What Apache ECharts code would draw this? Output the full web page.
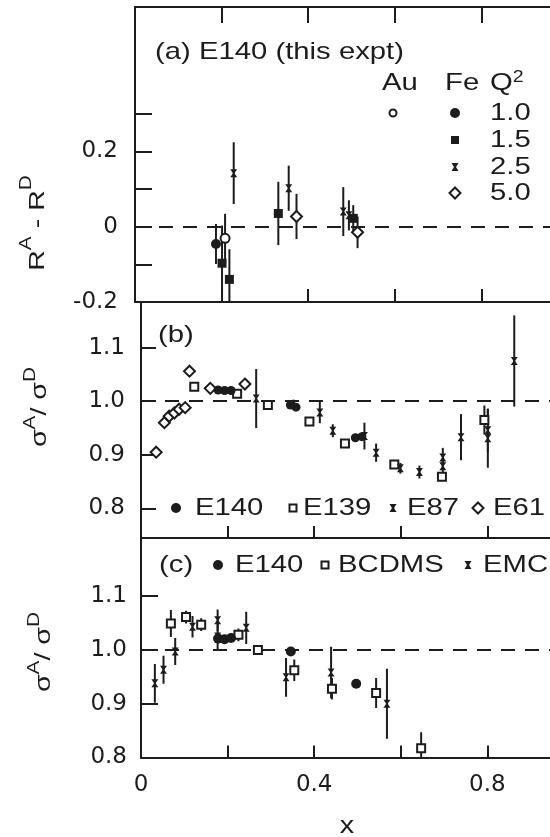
<!DOCTYPE html>
<html><head><meta charset="utf-8">
<script src="https://cdn.jsdelivr.net/npm/echarts@6/dist/echarts.min.js"></script>
<style>html,body{margin:0;padding:0;background:#fff}#c{width:550px;height:837px}</style>
</head><body><div id="c"></div>
<script>
// ================= DATA =================
// every point: [x, value, error]
// Panel (a): R^A - R^D from E140
const aAuQ10 = [[0.208, -0.031, 0.065]];
const aFeQ10 = [[0.187, -0.046, 0.053]];
const aFeQ15 = [[0.201, -0.097, 0.10], [0.218, -0.140, 0.08], [0.331, 0.035, 0.084], [0.504, 0.022, 0.035]];
const aFeQ25 = [[0.228, 0.142, 0.082], [0.355, 0.102, 0.06], [0.481, 0.040, 0.065], [0.494, 0.030, 0.04]];
const aFeQ50 = [[0.373, 0.027, 0.06], [0.514, -0.015, 0.042]];

// Panel (b): sigma_A / sigma_D  (SLAC experiments)
const bE140 = [[0.178, 1.021, 0.004], [0.193, 1.020, 0.004], [0.208, 1.020, 0.004], [0.345, 0.993, 0.004], [0.358, 0.989, 0.004], [0.495, 0.932, 0.004], [0.510, 0.934, 0.004]];
const bE139 = [[0.123, 1.027, 0.008], [0.222, 1.014, 0.008], [0.293, 0.993, 0.008], [0.389, 0.962, 0.008], [0.471, 0.921, 0.006], [0.585, 0.882, 0.006], [0.695, 0.859, 0.008], [0.793, 0.965, 0.027]];
const bE87 = [[0.266, 1.005, 0.055], [0.352, 0.995, 0.008], [0.413, 0.979, 0.02], [0.443, 0.945, 0.012], [0.516, 0.935, 0.025], [0.543, 0.904, 0.017], [0.599, 0.875, 0.01], [0.643, 0.868, 0.012], [0.697, 0.895, 0.018], [0.697, 0.879, 0.012], [0.739, 0.933, 0.043], [0.801, 0.946, 0.04], [0.801, 0.931, 0.055], [0.862, 1.075, 0.085]];
const bE61 = [[0.035, 0.905, 0.008], [0.054, 0.960, 0.008], [0.065, 0.972, 0.008], [0.077, 0.978, 0.008], [0.088, 0.985, 0.008], [0.102, 0.988, 0.008], [0.112, 1.056, 0.008], [0.160, 1.024, 0.006], [0.240, 1.032, 0.008]];

// Panel (c): sigma_A / sigma_D  (E140 vs muon data)
const cE140 = [[0.178, 1.021, 0.004], [0.193, 1.020, 0.004], [0.208, 1.022, 0.004], [0.346, 0.997, 0.004], [0.497, 0.937, 0.004]];
const cBCDMS = [[0.069, 1.049, 0.025], [0.104, 1.061, 0.012], [0.139, 1.047, 0.012], [0.225, 1.028, 0.012], [0.270, 1.000, 0.008], [0.354, 0.962, 0.02], [0.441, 0.928, 0.02], [0.543, 0.920, 0.028], [0.647, 0.817, 0.03]];
const cEMC = [[0.032, 0.938, 0.036], [0.052, 0.963, 0.026], [0.079, 0.997, 0.025], [0.119, 1.043, 0.02], [0.177, 1.055, 0.02], [0.177, 1.025, 0.025], [0.243, 1.041, 0.03], [0.335, 0.949, 0.036], [0.439, 0.958, 0.048], [0.568, 0.900, 0.065]];

// axes
const xMin = 0;
const xTicks = [0.2, 0.4, 0.6, 0.8];
const xTickLabels = [0, 0.4, 0.8];
const yRanges = [[-0.2, 0.583], [0.745, 1.185], [0.8, 1.209]];
const yTicks = [[-0.1, 0, 0.1, 0.2, 0.3], [0.8, 0.9, 1.0, 1.1], [0.9, 1.0, 1.1]];
const yTickLabels = [[-0.2, 0, 0.2], [0.8, 0.9, 1.0, 1.1], [0.8, 0.9, 1.0, 1.1]];
const refLines = [0, 1.0, 1.0];

// ================= STYLE / LAYOUT =================
const INK = '#1c1c1c';
const LFONT = 'DejaVu Sans';
const TFONT = 'Liberation Sans';
const SX = 1.22;
const W = 550;
const PX_PER_UNIT = 433;   // pixels per unit of x (the frame continues past the right edge)

const chart = echarts.init(document.getElementById('c'), null, {renderer: 'canvas'});

const gridBoxes = [
  {left: 135, top: 7, height: 295},
  {left: 141, top: 302, height: 236},
  {left: 141, top: 537.5, height: 220}
];
const grids = gridBoxes.map(g => ({left: g.left, top: g.top, height: g.height, width: W - g.left, show: false, containLabel: false}));
const xMaxes = gridBoxes.map(g => xMin + (W - g.left) / PX_PER_UNIT);

function xAx(grid, pos, tickLen, labels) {
  return {
    type: 'value', gridIndex: grid, position: pos, min: xMin, max: xMaxes[grid],
    axisLine: {show: true, onZero: false, lineStyle: {color: INK, width: 2}},
    axisTick: {show: true, inside: true, length: tickLen, customValues: xTicks, lineStyle: {color: INK, width: 2}},
    axisLabel: labels ? {show: true, customValues: xTickLabels, margin: 16, color: INK, fontFamily: LFONT, fontSize: 23,
      formatter: v => v === 0 ? '0' : v.toFixed(1)} : {show: false},
    splitLine: {show: false}
  };
}
const xAxes = [xAx(0, 'bottom', 13, false), xAx(0, 'top', 16, false), xAx(1, 'bottom', 12, false), xAx(2, 'bottom', 12, true)];

const yMargins = [17, 16, 14];
const yTickLens = [17, 15, 17];
const yAxes = [0, 1, 2].map(i => ({
  type: 'value', gridIndex: i, min: yRanges[i][0], max: yRanges[i][1],
  axisLine: {show: true, onZero: false, lineStyle: {color: INK, width: 2}},
  axisTick: {show: true, inside: true, length: yTickLens[i], customValues: yTicks[i], lineStyle: {color: INK, width: 2}},
  axisLabel: {show: true, customValues: yTickLabels[i], margin: yMargins[i], color: INK, fontFamily: LFONT, fontSize: 23,
    formatter: v => (i === 0 && Math.abs(v) < 1e-9) ? '0' : v.toFixed(1)},
  splitLine: {show: false}
}));

const HOUR = 'path://M0,0L10,0L6,5L10,10L0,10L4,5Z';

function errSeries(data, xi, yi) {
  return {
    type: 'custom', xAxisIndex: xi, yAxisIndex: yi, data: data, clip: true, silent: true, z: 2,
    encode: {x: 0, y: 1},
    renderItem: function (params, api) {
      const x = api.value(0), y = api.value(1), e = api.value(2);
      if (!(e > 0.006)) return null;
      const p1 = api.coord([x, y - e]), p2 = api.coord([x, y + e]);
      return {type: 'line', shape: {x1: p1[0], y1: p1[1], x2: p2[0], y2: p2[1]}, style: {stroke: INK, lineWidth: 2}};
    }
  };
}
function pts(data, xi, yi, symbol, size, filled, extra) {
  return Object.assign({
    type: 'scatter', xAxisIndex: xi, yAxisIndex: yi, data: data, symbol: symbol, symbolSize: size,
    silent: true, z: 3, clip: true,
    itemStyle: filled ? {color: INK, opacity: 1} : {color: '#fff', borderColor: INK, borderWidth: 2, opacity: 1}
  }, extra || {});
}
function ref(v) {
  return {markLine: {silent: true, symbol: ['none', 'none'], label: {show: false}, animation: false,
    lineStyle: {color: INK, width: 2, type: [14, 10]}, data: [{yAxis: v}]}};
}

const series = [];
// panel a
[aAuQ10, aFeQ10, aFeQ15, aFeQ25, aFeQ50].forEach(d => series.push(errSeries(d, 0, 0)));
series.push(pts(aFeQ10, 0, 0, 'circle', 10, true, ref(refLines[0])));
series.push(pts(aAuQ10, 0, 0, 'circle', 9, false));
series.push(pts(aFeQ15, 0, 0, 'rect', 9, true));
series.push(pts(aFeQ25, 0, 0, HOUR, [7, 8], true));
series.push(pts(aFeQ50, 0, 0, 'diamond', [11, 11], false));
// panel b
[bE140, bE139, bE87, bE61].forEach(d => series.push(errSeries(d, 2, 1)));
series.push(pts(bE61, 2, 1, 'diamond', [11, 11], false, ref(refLines[1])));
series.push(pts(bE139, 2, 1, 'rect', 8, false));
series.push(pts(bE87, 2, 1, HOUR, [7, 8], true));
series.push(pts(bE140, 2, 1, 'circle', 9, true));
// panel c
[cE140, cBCDMS, cEMC].forEach(d => series.push(errSeries(d, 3, 2)));
series.push(pts(cBCDMS, 3, 2, 'rect', 8, false, ref(refLines[2])));
series.push(pts(cEMC, 3, 2, HOUR, [7, 8], true));
series.push(pts(cE140, 3, 2, 'circle', 10, true));

// ---------- annotation text & legend keys ----------
function T(x, y, text, size, opts) {
  opts = opts || {};
  return {
    type: 'text', x: x, y: y, rotation: opts.rot || 0, scaleX: opts.sx || SX, scaleY: opts.sy || 1, z: 20,
    style: {text: text, fontFamily: TFONT, fontSize: size, fill: INK,
      textAlign: opts.align || 'left', textVerticalAlign: 'middle', verticalAlign: 'middle',
      rich: opts.rich}
  };
}
function supRich(size, pad) { return {s: {fontFamily: TFONT, fontSize: size, fill: INK, padding: [0, 0, pad, 0]}}; }
function dot(cx, cy, r, filled) { return {type: 'circle', z: 20, shape: {cx: cx, cy: cy, r: r}, style: filled ? {fill: INK} : {fill: '#fff', stroke: INK, lineWidth: 2}}; }
function sq(cx, cy, s, filled) { return {type: 'rect', z: 20, shape: {x: cx - s / 2, y: cy - s / 2, width: s, height: s}, style: filled ? {fill: INK} : {fill: '#fff', stroke: INK, lineWidth: 2}}; }
function dia(cx, cy, s) { return {type: 'polygon', z: 20, shape: {points: [[cx, cy - s], [cx + s, cy], [cx, cy + s], [cx - s, cy]]}, style: {fill: '#fff', stroke: INK, lineWidth: 2}}; }
function hour(cx, cy) { return {type: 'polygon', z: 20, shape: {points: [[cx - 3.5, cy - 4], [cx + 3.5, cy - 4], [cx + 1, cy], [cx + 3.5, cy + 4], [cx - 3.5, cy + 4], [cx - 1, cy]]}, style: {fill: INK}}; }

const graphics = [
  // panel (a)
  T(155, 52, '(a) E140 (this expt)', 24),
  T(382, 83, 'Au', 24), T(445, 83, 'Fe', 24),
  T(490, 83, 'Q{s|2}', 24, {rich: supRich(16, 10)}),
  T(490, 113, '1.0', 24), T(490, 140, '1.5', 24), T(490, 167, '2.5', 24), T(490, 193, '5.0', 24),
  dot(393, 113, 3.5, false), dot(455, 113, 5, true), sq(455, 140, 8, true), hour(455, 167), dia(455, 193, 5.5),
  // panel (b)
  T(158, 335, '(b)', 24),
  dot(176, 508, 5, true), T(195, 508, 'E140', 24),
  sq(293, 508, 7, false), T(303, 508, 'E139', 24),
  hour(393, 508), T(407, 508, 'E87', 24),
  dia(478, 508, 5.5), T(493, 508, 'E61', 24),
  // panel (c)
  T(159, 565, '(c)', 24),
  dot(218, 565, 5, true), T(235, 565, 'E140', 24),
  sq(325, 565, 7, false), T(338, 565, 'BCDMS', 24),
  hour(468, 565), T(483, 565, 'EMC', 24),
  // axis titles
  T(347, 826, 'x', 24, {align: 'center', sx: 1.2}),
  T(38, 223, 'R{s|A} - R{s|D}', 22, {align: 'center', rot: Math.PI / 2, sx: 1.3, rich: supRich(16, 22)}),
  T(40, 407, 'σ{s|A}/ σ{s|D}', 22, {align: 'center', rot: Math.PI / 2, sx: 1.3, rich: supRich(16, 18)}),
  T(44, 652, 'σ{s|A}/ σ{s|D}', 22, {align: 'center', rot: Math.PI / 2, sx: 1.3, rich: supRich(16, 18)})
];

chart.setOption({
  animation: false,
  backgroundColor: '#fff',
  grid: grids,
  xAxis: xAxes,
  yAxis: yAxes,
  series: series,
  graphic: {elements: graphics}
});
</script></body></html>
